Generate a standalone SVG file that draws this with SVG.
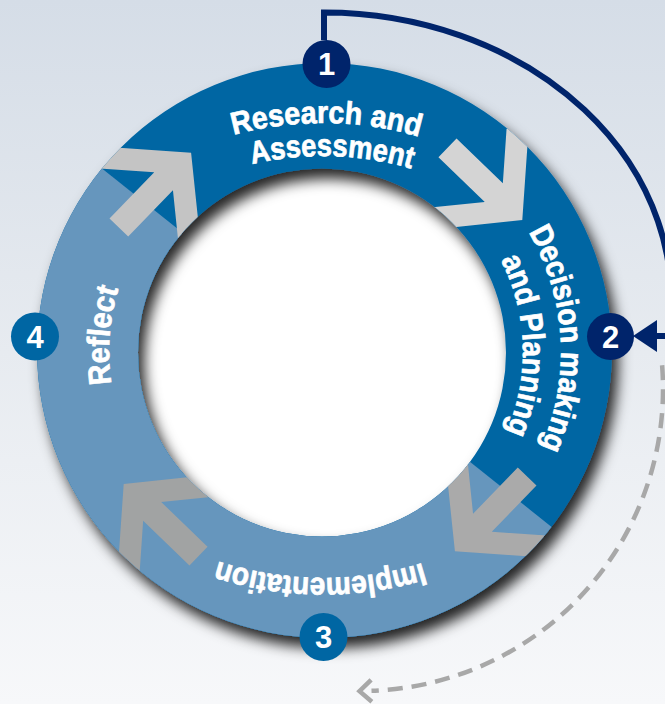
<svg xmlns="http://www.w3.org/2000/svg" width="665" height="704" viewBox="0 0 665 704">
  <defs>
    <style>
      .lbl { fill: #ffffff; stroke: #ffffff; stroke-width: 0.7px; font-family: "Liberation Sans", Arial, sans-serif; font-weight: 700; font-size: 31.5px; }
      .num { fill: #ffffff; font-family: "Liberation Sans", Arial, sans-serif; font-weight: 700; font-size: 31px; text-anchor: middle; }
      .navy { fill: #00246b; }
      .blue { fill: #0066a3; }
    </style>
    <linearGradient id="bg" x1="0" y1="0" x2="0" y2="1">
      <stop offset="0" stop-color="#d5dde7"/>
      <stop offset="0.5" stop-color="#e7ebf0"/>
      <stop offset="1" stop-color="#f7f8fa"/>
    </linearGradient>
    <filter id="sh" x="-15%" y="-15%" width="135%" height="135%">
      <feDropShadow dx="6" dy="10" stdDeviation="7" flood-color="#000" flood-opacity="0.85"/>
    </filter>
    <clipPath id="ringClip">
      <path clip-rule="evenodd" d="M37,350.5 a287.5,287.5 0 1 0 575,0 a287.5,287.5 0 1 0 -575,0 Z M138,352.5 a184,184 0 1 0 368,0 a184,184 0 1 0 -368,0 Z"/>
    </clipPath>
    <polygon id="arrowShape" points="0,0 -57.9,-68.9 -74.8,-54.8 -39.6,-13 -104,-13 -104,13 -39.6,13 -74.8,54.8 -57.9,68.9"/>
    <path id="p1" d="M24.3,293.5 A347,347 0 0 1 625.2,299.5"/>
    <path id="p2" d="M55.7,305.3 A314,314 0 0 1 599.3,320.8"/>
    <path id="p3" d="M429.9,139.4 A238,238 0 0 1 453.7,550.9"/>
    <path id="p4" d="M417.2,175.6 A200,200 0 0 1 428.7,521.8"/>
    <path id="p5" d="M615.9,410.6 A340,340 0 0 1 27.1,405.4"/>
    <path id="p6" d="M202.4,528.8 A214,214 0 0 1 230.2,159.2"/>
    <marker id="navyHead" markerUnits="userSpaceOnUse" markerWidth="26" markerHeight="34" viewBox="0 0 26 34" refX="12" refY="17" orient="auto" overflow="visible">
      <path d="M0,1 L24,17 L0,33 Z" fill="#00246b"/>
    </marker>
    <marker id="grayHead" markerUnits="userSpaceOnUse" markerWidth="20" markerHeight="28" viewBox="0 0 20 28" refX="1" refY="12" orient="auto" overflow="visible">
      <path d="M1,1 L13,12 L1,23" fill="none" stroke="#a8a8a8" stroke-width="4.5"/>
    </marker>
  </defs>

  <rect x="0" y="0" width="665" height="704" fill="url(#bg)"/>

  <g id="ring">
    <circle cx="322" cy="352.5" r="186" fill="#ffffff"/>
    <g filter="url(#sh)">
      <path fill="#0066a3" fill-rule="evenodd" d="M37,350.5 a287.5,287.5 0 1 0 575,0 a287.5,287.5 0 1 0 -575,0 Z M138,352.5 a184,184 0 1 0 368,0 a184,184 0 1 0 -368,0 Z"/>
      <g clip-path="url(#ringClip)">
        <polygon fill="#6696bd" points="23.5,105.9 631.2,590.4 319.4,981.3 -288.3,496.8"/>
        <use href="#arrowShape" fill="#c4c4c4" transform="translate(191.1,152.7) rotate(-46)"/>
        <use href="#arrowShape" fill="#d4d4d4" transform="translate(522.3,220.1) rotate(44)"/>
        <use href="#arrowShape" fill="#aaaaaa" transform="translate(454.9,551.3) rotate(134)"/>
        <use href="#arrowShape" fill="#a1a3a3" transform="translate(123.7,483.9) rotate(224)"/>
      </g>
    </g>
  </g>

  <g id="connectors">
    <path d="M324,40 L324,12.5 A347,287 0 0 1 668.3,336 L645,336" fill="none" stroke="#00246b" stroke-width="6" marker-end="url(#navyHead)"/>
    <path d="M662.1,365.3 A302,302 0 0 1 371.5,690.8" fill="none" stroke="#a8a8a8" stroke-width="4.5" stroke-dasharray="15 9" marker-end="url(#grayHead)"/>
  </g>

  <g id="node-1">
    <text class="lbl"><textPath href="#p1" startOffset="50%" text-anchor="middle" textLength="188" lengthAdjust="spacingAndGlyphs">Research and</textPath></text>
    <text class="lbl"><textPath href="#p2" startOffset="50%" text-anchor="middle" textLength="161" lengthAdjust="spacingAndGlyphs">Assessment</textPath></text>
    <circle class="navy" cx="326.5" cy="64" r="24"/>
    <text class="num" x="326.5" y="75">1</text>
  </g>

  <g id="node-2">
    <text class="lbl"><textPath href="#p3" startOffset="50%" text-anchor="middle" textLength="224" lengthAdjust="spacingAndGlyphs">Decision making</textPath></text>
    <text class="lbl"><textPath href="#p4" startOffset="50%" text-anchor="middle" textLength="178" lengthAdjust="spacingAndGlyphs">and Planning</textPath></text>
    <circle class="navy" cx="610.5" cy="336.5" r="23.5"/>
    <text class="num" x="610.5" y="347.5">2</text>
  </g>

  <g id="node-3">
    <text class="lbl"><textPath href="#p5" startOffset="50%" text-anchor="middle" textLength="208" lengthAdjust="spacingAndGlyphs">Implementation</textPath></text>
    <circle class="blue" cx="323.5" cy="637" r="24"/>
    <text class="num" x="323.5" y="648">3</text>
  </g>

  <g id="node-4">
    <text class="lbl"><textPath href="#p6" startOffset="50%" text-anchor="middle" textLength="96" lengthAdjust="spacingAndGlyphs">Reflect</textPath></text>
    <circle class="blue" cx="35" cy="336.5" r="24"/>
    <text class="num" x="35" y="347.5">4</text>
  </g>
</svg>
